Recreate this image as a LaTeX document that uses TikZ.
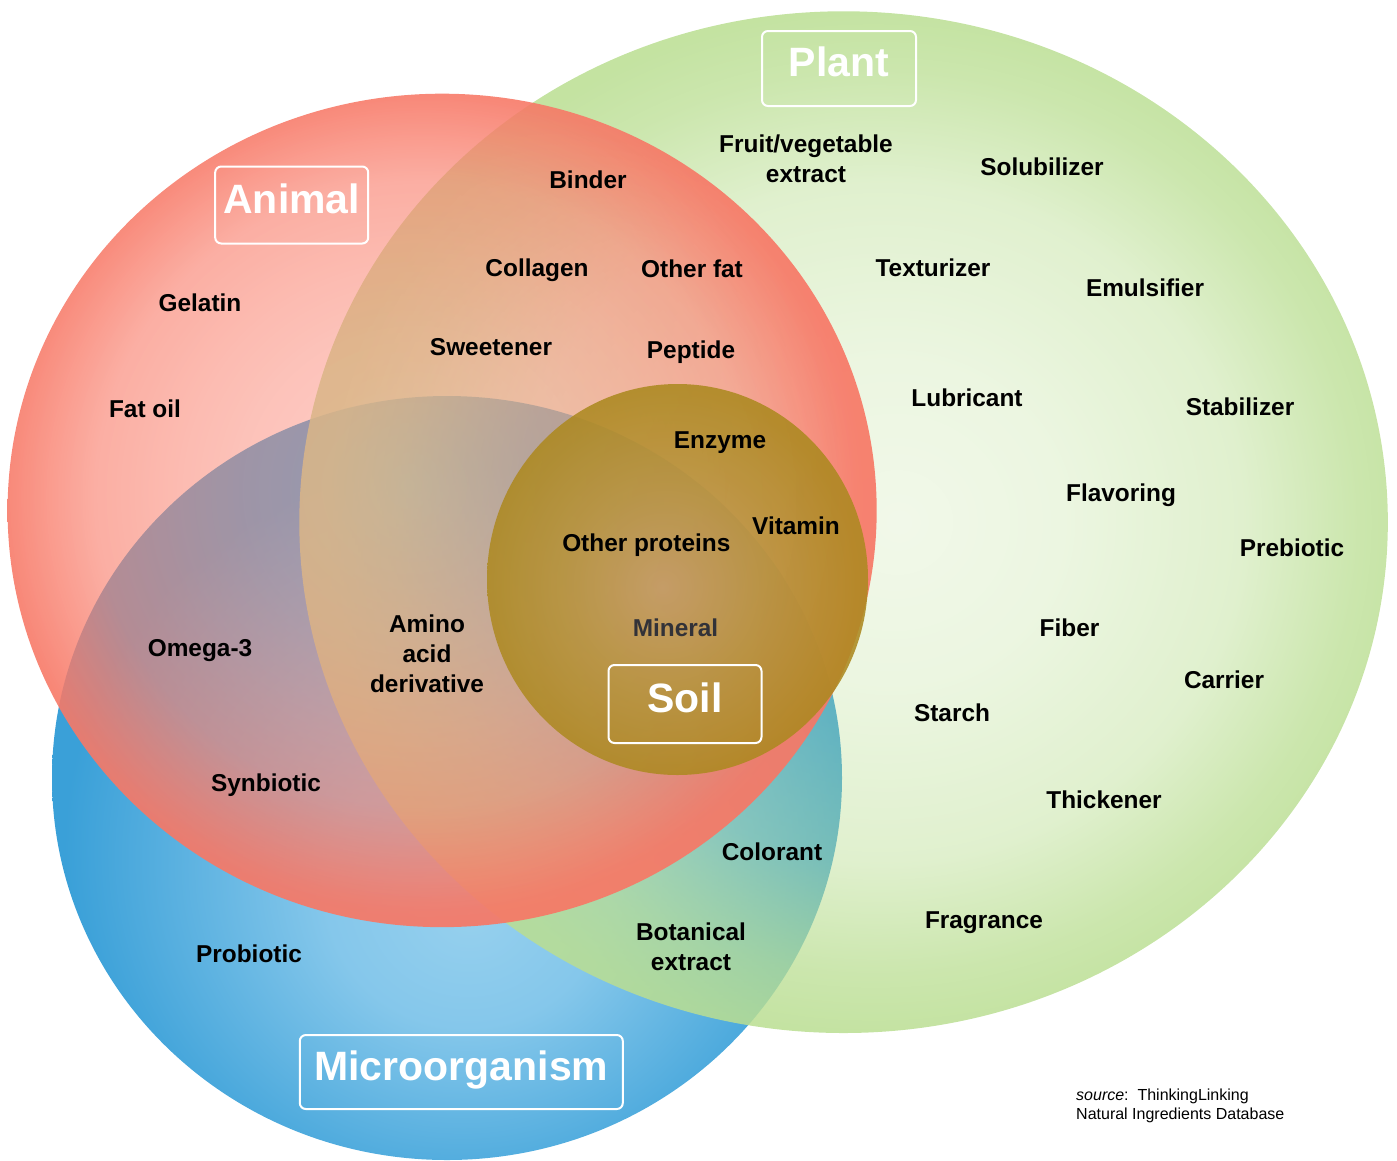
\documentclass[tikz,border=0pt]{standalone}
\usepackage{fontspec}
\setmainfont{Liberation Sans}
\usetikzlibrary{fadings}

% fonts
\newcommand\lblfont{\fontsize{24.4}{30}\selectfont\bfseries}
\newcommand\ttlfont{\fontsize{41}{49}\selectfont\bfseries}
\newcommand\srcfont{\fontsize{16}{19}\selectfont}

\definecolor{plantgreen}{RGB}{186,222,146}
\definecolor{mineralgray}{RGB}{50,50,56}

\tikzset{
  lbl/.style={font=\lblfont, anchor=base, inner sep=0pt, text=black},
  lblmulti/.style={font=\lblfont, anchor=north, align=center, inner sep=0pt, text=black},
  titlebox/.style={draw=white, line width=2pt, rounded corners=6pt, text=white,
    font=\ttlfont, inner sep=0pt, text height=30pt, text depth=14pt},
}

\begin{document}
% microorganism: opaque radial fill (edge colour reached at 25bp = outline)
\pgfdeclareradialshading{microshade}{\pgfpoint{1.5bp}{-9bp}}{%
  rgb(0bp)=(0.588,0.816,0.933);
  rgb(9bp)=(0.52,0.78,0.92);
  rgb(25bp)=(0.227,0.627,0.847);
  rgb(50bp)=(0.227,0.627,0.847)}
% soil: nearly opaque golden fill
\pgfdeclareradialshading{soilshade}{\pgfpoint{-2bp}{-1bp}}{%
  rgb(0bp)=(0.776,0.616,0.38);
  rgb(13bp)=(0.72,0.58,0.235);
  rgb(25bp)=(0.676,0.536,0.125);
  rgb(50bp)=(0.676,0.536,0.125)}
% animal colour: pinker in the middle, salmon at the rim
\pgfdeclareradialshading{animalshade}{\pgfpoint{-2bp}{1.5bp}}{%
  rgb(0bp)=(0.988,0.588,0.53);
  rgb(14bp)=(0.98,0.53,0.46);
  rgb(25bp)=(0.969,0.47,0.40);
  rgb(50bp)=(0.969,0.47,0.40)}
% plant and animal: clearer in the middle, denser at the rim
\pgfdeclareradialshading{plantalpha}{\pgfpoint{2.5bp}{0bp}}{%
  gray(0bp)=(0.2); gray(8bp)=(0.28); gray(16.5bp)=(0.45);
  gray(22bp)=(0.75); gray(25bp)=(0.86); gray(50bp)=(0.86)}
\pgfdeclarefading{plantfade}{\pgfuseshading{plantalpha}}
\pgfdeclareradialshading{animalalpha}{\pgfpoint{-2bp}{1.5bp}}{%
  gray(0bp)=(0.46); gray(9.5bp)=(0.52); gray(13.75bp)=(0.57);
  gray(18.75bp)=(0.64); gray(21.5bp)=(0.77); gray(24.25bp)=(0.9);
  gray(25bp)=(0.92); gray(50bp)=(0.92)}
\pgfdeclarefading{animalfade}{\pgfuseshading{animalalpha}}

\begin{tikzpicture}[x=1pt,y=-1pt]
\useasboundingbox (0,0) rectangle (1397,1160);

% sets
\shade[shading=microshade] (447,778) ellipse [x radius=395pt, y radius=382pt];
\fill[plantgreen, path fading=plantfade] (845,522) ellipse [x radius=545pt, y radius=511pt];
\shade[shading=animalshade, path fading=animalfade] (443,510) ellipse [x radius=435pt, y radius=417pt];
\shade[shading=soilshade, fill opacity=0.88] (677.5,579.5) ellipse [x radius=190.5pt, y radius=195.5pt];

% set titles
\node[titlebox, minimum width=154pt, minimum height=75pt] (tplant) at (839,68.5) {Plant};
\node[titlebox, minimum width=153pt, minimum height=77pt] (tanimal) at (291.7,205) {Animal};
\node[titlebox, minimum width=153pt, minimum height=78pt] (tsoil) at (685,704) {Soil};
\node[titlebox, minimum width=323pt, minimum height=74pt] (tmicro) at (461.3,1072) {Microorganism};

% ingredient labels
\node[lblmulti] (fruit) at (806,135) {Fruit/vegetable\\extract};
\node[lbl] (solub) at (1042,175.7) {Solubilizer};
\node[lbl] (binder) at (588,188.7) {Binder};
\node[lbl] (collagen) at (537,276.7) {Collagen};
\node[lbl] (otherfat) at (692,277.7) {Other fat};
\node[lbl] (textur) at (933,276.7) {Texturizer};
\node[lbl] (emuls) at (1145,296.7) {Emulsifier};
\node[lbl] (gelatin) at (200,311.7) {Gelatin};
\node[lbl] (sweet) at (491,355.7) {Sweetener};
\node[lbl] (peptide) at (691,358.7) {Peptide};
\node[lbl] (lubric) at (967,406.7) {Lubricant};
\node[lbl] (stabil) at (1240,415.5) {Stabilizer};
\node[lbl] (fatoil) at (145,417.7) {Fat oil};
\node[lbl] (enzyme) at (720,448.5) {Enzyme};
\node[lbl] (flavor) at (1121,501) {Flavoring};
\node[lbl] (vitamin) at (796,534) {Vitamin};
\node[lbl] (otherprot) at (646.3,551.7) {Other proteins};
\node[lbl] (prebio) at (1292,556) {Prebiotic};
\node[lbl, text=mineralgray] (mineral) at (675.5,636.7) {Mineral};
\node[lbl] (fiber) at (1069.5,636.7) {Fiber};
\node[lbl] (omega) at (200,656.7) {Omega-3};
\node[lblmulti] (amino) at (427,614.2) {Amino\\acid\\derivative};
\node[lbl] (carrier) at (1224,688.7) {Carrier};
\node[lbl] (starch) at (952,721.7) {Starch};
\node[lbl] (synbio) at (266,791.7) {Synbiotic};
\node[lbl] (thick) at (1104,808.7) {Thickener};
\node[lbl] (colorant) at (772,860.7) {Colorant};
\node[lbl] (fragr) at (984,928.7) {Fragrance};
\node[lbl] (probio) at (249,962.7) {Probiotic};
\node[lblmulti] (botan) at (691,922.2) {Botanical\\extract};

% source note
\node[anchor=north west, align=left, inner sep=0pt, font=\srcfont] (src) at (1076,1088.5)
  {\textit{source}:\ \ ThinkingLinking\\Natural Ingredients Database};
\end{tikzpicture}
\end{document}
